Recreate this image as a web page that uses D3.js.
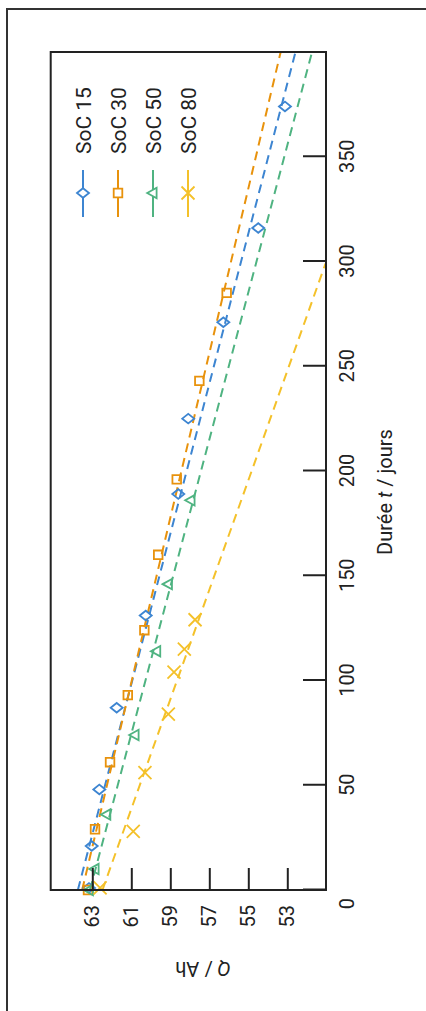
<!DOCTYPE html>
<html><head><meta charset="utf-8">
<script src="https://cdn.jsdelivr.net/npm/d3@7"></script>
<style>
html,body{margin:0;padding:0;background:#fff;}
svg{display:block;font-family:Roboto,"Noto Sans",sans-serif;}
</style></head>
<body>
<svg id="chart" width="426" height="1011"></svg>
<script>
// ---- data ----
const seriesNames = ["SoC 15", "SoC 30", "SoC 50", "SoC 80"];
const seriesColors = ["#3d85d1", "#e8920c", "#4fb381", "#f4c12a"];
const seriesSymbols = ["diamond", "square", "triangle", "cross"];

const soc15T = [1, 21, 48, 87, 131, 189, 225, 271, 316, 374];
const soc15Q = [63.17, 63.03, 62.64, 61.75, 60.26, 58.59, 58.08, 56.28, 54.49, 53.12];
const soc30T = [0, 29, 61, 93, 124, 160, 196, 243, 285];
const soc30Q = [63.22, 62.86, 62.09, 61.18, 60.33, 59.62, 58.67, 57.51, 56.11];
const soc50T = [0, 10, 36, 74, 114, 146, 186];
const soc50Q = [63.15, 62.86, 62.26, 60.81, 59.7, 59.1, 57.94];
const soc80T = [1, 28, 56, 84, 104, 115, 129];
const soc80Q = [62.6, 60.9, 60.3, 59.1, 58.81, 58.28, 57.73];

// fitted dashed lines: [start, end] in t and Q
const fit15T = [0, 400], fit15Q = [63.74, 52.58];
const fit30T = [0, 400], fit30Q = [63.52, 53.34];
const fit50T = [0, 400], fit50Q = [63.12, 51.73];
const fit80T = [0, 299], fit80Q = [62.48, 51.04];

const xTicks = [0, 50, 100, 150, 200, 250, 300, 350];
const yTicks = [63, 61, 59, 57, 55, 53];
const xTitle = ["Durée ", "t", " / jours"];
const yTitle = ["Q", " / Ah"];

// ---- layout (chart is drawn in a 1011x426 frame, then rotated) ----
const W = 1011, H = 426;
const plot = {left: 121, right: 959, top: 50.7, bottom: 326};

const x = d3.scaleLinear().domain([0, 400]).range([plot.left, plot.right]);
const y = d3.scaleLinear().domain([53, 63]).range([287.3, 92.3]);

const svg = d3.select("#chart");
const g = svg.append("g").attr("transform", `translate(0,${W}) rotate(-90)`);

// outer frame
g.append("rect").attr("x", -10).attr("y", 7).attr("width", 1012).attr("height", 440)
  .attr("fill", "none").attr("stroke", "#333").attr("stroke-width", 2);

g.append("clipPath").attr("id", "clip").append("rect")
  .attr("x", plot.left).attr("y", plot.top)
  .attr("width", plot.right - plot.left).attr("height", plot.bottom - plot.top);

const series = [
  {T: soc15T, Q: soc15Q, fT: fit15T, fQ: fit15Q},
  {T: soc30T, Q: soc30Q, fT: fit30T, fQ: fit30Q},
  {T: soc50T, Q: soc50Q, fT: fit50T, fQ: fit50Q},
  {T: soc80T, Q: soc80Q, fT: fit80T, fQ: fit80Q}
];

function symbolPath(kind) {
  switch (kind) {
    case "diamond": return "M0,-6L4.8,0L0,6L-4.8,0Z";
    case "square": return "M-4.3,-4.3H4.3V4.3H-4.3Z";
    case "triangle": return "M0,-5.8L5.2,3.6H-5.2Z";
    case "cross": return "M-6.5,-6.5L6.5,6.5M-6.5,6.5L6.5,-6.5";
  }
}

const line = d3.line().x(d => x(d[0])).y(d => y(d[1]));

// dashed fit lines
const lines = g.append("g").attr("clip-path", "url(#clip)");
series.forEach((s, i) => {
  lines.append("path")
    .attr("d", line(s.fT.map((t, k) => [t, s.fQ[k]])))
    .attr("fill", "none").attr("stroke", seriesColors[i])
    .attr("stroke-width", 2).attr("stroke-dasharray", "9,6");
});

// markers
series.forEach((s, i) => {
  g.append("g").selectAll("path").data(s.T.map((t, k) => [t, s.Q[k]])).join("path")
    .attr("transform", d => `translate(${x(d[0])},${y(d[1])})`)
    .attr("d", symbolPath(seriesSymbols[i]))
    .attr("fill", "none").attr("stroke", seriesColors[i]).attr("stroke-width", 1.8);
});

// plot box
g.append("rect").attr("x", plot.left).attr("y", plot.top)
  .attr("width", plot.right - plot.left).attr("height", plot.bottom - plot.top)
  .attr("fill", "none").attr("stroke", "#222").attr("stroke-width", 2);

// x axis (bottom in drawing frame), ticks inward
const xAxis = d3.axisBottom(x).tickValues(xTicks).tickSize(-23).tickPadding(14).tickFormat(d3.format("d"));
const xa = g.append("g").attr("transform", `translate(0,${plot.bottom})`).call(xAxis);
xa.select(".domain").remove();
xa.selectAll(".tick line").attr("stroke", "#222").attr("stroke-width", 2);
xa.selectAll(".tick text").attr("fill", "#222").attr("font-size", 20)
  .attr("font-family", "Roboto, sans-serif")
  .attr("dx", d => d === 0 ? -14 : 0);

// y axis (left), ticks inward
const yAxis = d3.axisLeft(y).tickValues(yTicks).tickSize(-22).tickPadding(15);
const ya = g.append("g").attr("transform", `translate(${plot.left},0)`).call(yAxis);
ya.select(".domain").remove();
ya.selectAll(".tick line").attr("stroke", "#222").attr("stroke-width", 2);
ya.selectAll(".tick text").attr("fill", "#222").attr("font-size", 20)
  .attr("font-family", "Roboto, sans-serif");

// axis titles
const xt = g.append("text").attr("x", 519).attr("y", 392).attr("text-anchor", "middle")
  .attr("font-size", 20).attr("fill", "#222");
xt.append("tspan").text(xTitle[0]);
xt.append("tspan").attr("font-style", "italic").text(xTitle[1]);
xt.append("tspan").text(xTitle[2]);

const yt = g.append("text").attr("transform", "translate(49,203) rotate(-90)")
  .attr("text-anchor", "middle").attr("font-size", 20).attr("fill", "#222");
yt.append("tspan").attr("font-style", "italic").text(yTitle[0]);
yt.append("tspan").text(yTitle[1]);

// legend
const legY = d3.scalePoint().domain(seriesNames).range([83, 188]);
const leg = g.append("g");
seriesNames.forEach((name, i) => {
  const yy = legY(name);
  leg.append("line").attr("x1", 794).attr("x2", 841).attr("y1", yy).attr("y2", yy)
    .attr("stroke", seriesColors[i]).attr("stroke-width", 2);
  leg.append("path").attr("transform", `translate(818,${yy})`)
    .attr("d", symbolPath(seriesSymbols[i]))
    .attr("fill", "#fff").attr("stroke", seriesColors[i]).attr("stroke-width", 1.8);
  leg.append("text").attr("x", 857).attr("y", yy).attr("dy", "0.36em")
    .attr("font-size", 21).attr("fill", "#222").text(name);
});
</script>
</body></html>
